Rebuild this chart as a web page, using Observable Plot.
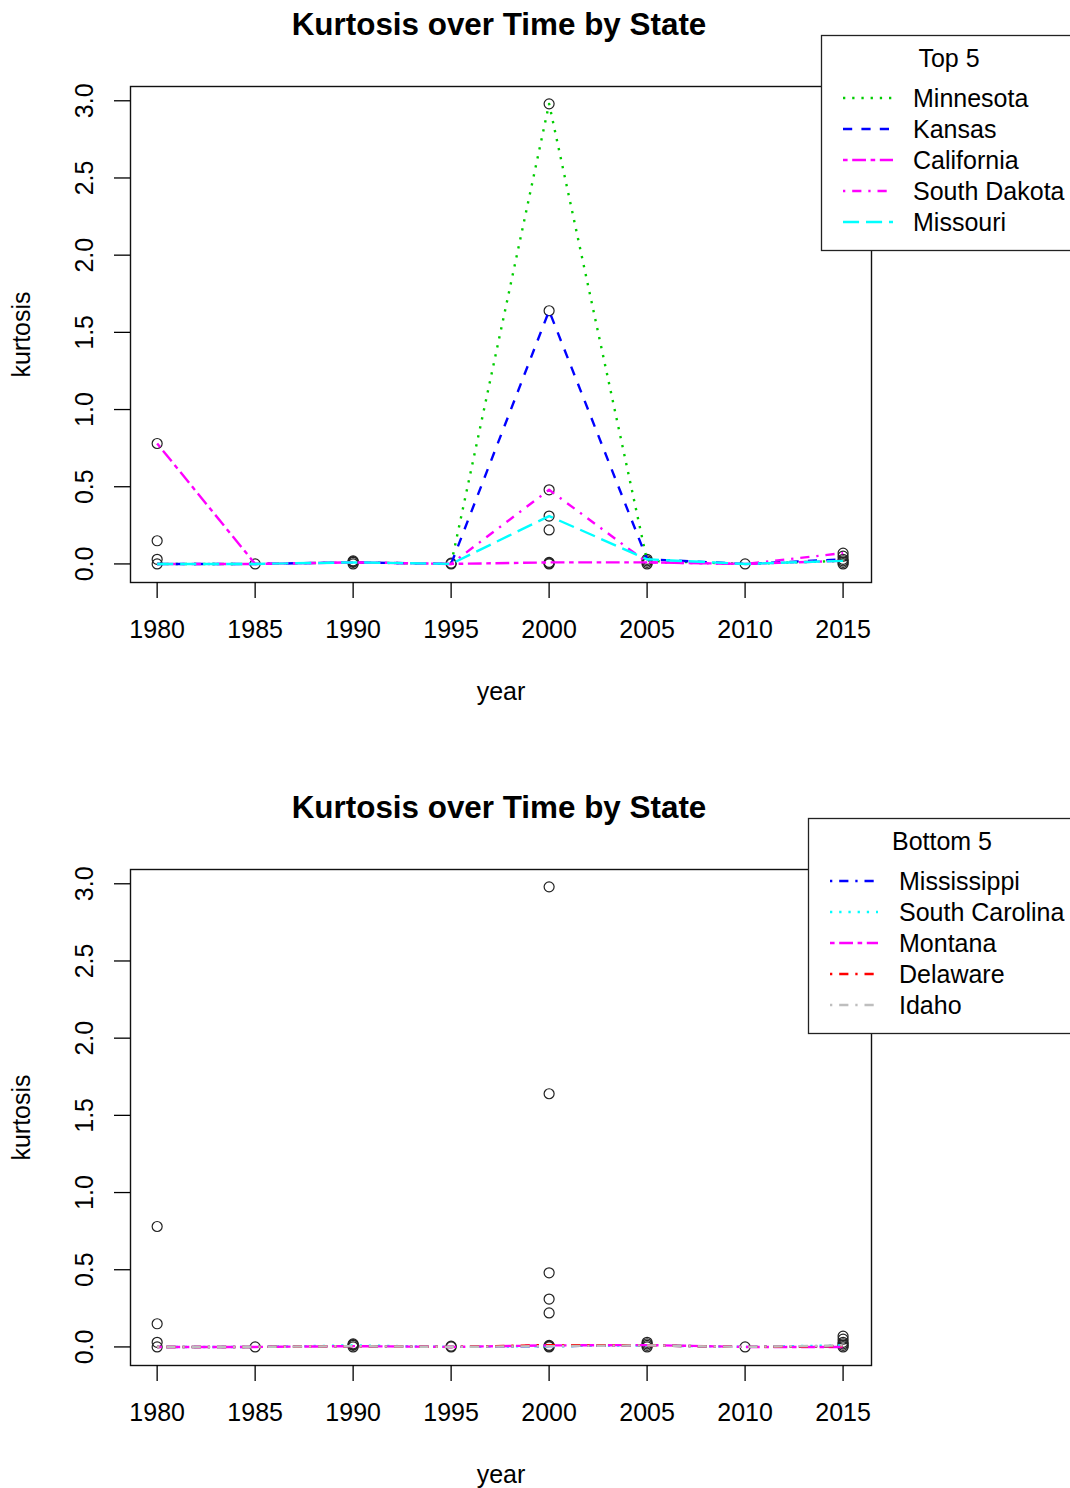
<!DOCTYPE html>
<html><head><meta charset="utf-8">
<script src="https://cdn.jsdelivr.net/npm/d3@7"></script>
<script src="https://cdn.jsdelivr.net/npm/@observablehq/plot@0.6"></script>
<style>
body{margin:0;background:#fff;}
#wrap{position:relative;width:1070px;height:1488px;overflow:hidden;background:#fff;}
.panel{position:absolute;left:0;width:1070px;height:744px;}
#overlay{position:absolute;left:0;top:0;pointer-events:none;}
</style></head><body><div id="wrap"></div>
<script>
// ---------- data ----------
const chartTitle = "Kurtosis over Time by State";
const years = [1980, 1985, 1990, 1995, 2000, 2005, 2010, 2015];
const xTicks = [1980, 1985, 1990, 1995, 2000, 2005, 2010, 2015];
const yTicks = [0, 0.5, 1, 1.5, 2, 2.5, 3];

const topTitle = "Top 5";
const topStates = ["Minnesota", "Kansas", "California", "South Dakota", "Missouri"];
const minnesota   = [0, 0, 0.01, 0, 2.98, 0.02, 0, 0.02];
const kansas      = [0, 0, 0.01, 0, 1.64, 0.03, 0, 0.03];
const california  = [0.78, 0, 0.01, 0, 0.01, 0.01, 0, 0.02];
const southDakota = [0, 0, 0.01, 0, 0.48, 0.01, 0, 0.07];
const missouri    = [0, 0, 0.01, 0, 0.31, 0.03, 0, 0.02];

const bottomTitle = "Bottom 5";
const bottomStates = ["Mississippi", "South Carolina", "Montana", "Delaware", "Idaho"];
const mississippi   = [0, 0, 0.005, 0, 0.005, 0.01, 0, 0.005];
const southCarolina = [0, 0, 0.01, 0, 0.005, 0.01, 0, 0.01];
const montana       = [0, 0, 0.005, 0, 0.01, 0.012, 0, 0];
const delaware      = [0, 0, 0.005, 0, 0.012, 0.01, 0, 0.005];
const idaho         = [0, 0, 0.005, 0, 0.005, 0.01, 0, 0.01];

// all states' observations (open circles)
const pointYears  = [1980, 1980, 1980, 1980, 1985, 1990, 1990, 1990, 1990, 1995, 1995,
                     2000, 2000, 2000, 2000, 2000, 2000, 2000, 2000,
                     2005, 2005, 2005, 2005, 2010, 2015, 2015, 2015, 2015, 2015, 2015];
const pointValues = [0.78, 0.15, 0.03, 0, 0, 0, 0.01, 0.02, 0.015, 0, 0.005,
                     2.98, 1.64, 0.48, 0.31, 0.22, 0.01, 0, 0.005,
                     0.03, 0.02, 0.01, 0, 0, 0.07, 0.05, 0.03, 0.02, 0.01, 0];

// ---------- styles ----------
const s = 2.3;
const dash = {
  dotted: [1*s, 3*s], dashed: [4*s, 4*s], dotdash: [1*s, 3*s, 4*s, 3*s],
  longdash: [7*s, 3*s], twodash: [2*s, 2*s, 6*s, 2*s]
};
const topStyle = [
  {color: "#00CD00", dash: dash.dotted},
  {color: "#0000FF", dash: dash.dashed},
  {color: "#FF00FF", dash: dash.twodash},
  {color: "#FF00FF", dash: dash.dotdash},
  {color: "#00FFFF", dash: dash.longdash}
];
const bottomStyle = [
  {color: "#0000FF", dash: dash.dotdash},
  {color: "#00FFFF", dash: dash.dotted},
  {color: "#FF00FF", dash: dash.twodash},
  {color: "#FF0000", dash: dash.dotdash},
  {color: "#BEBEBE", dash: dash.dotdash}
];
const font = "'Liberation Sans', Arial, sans-serif";

const points = pointYears.map((yr, i) => ({year: yr, value: pointValues[i]}));

function panel(series, styles) {
  const marks = [
    Plot.frame({stroke: "#111", strokeWidth: 1.4}),
    Plot.dot(points, {x: "year", y: "value", r: 5, stroke: "#222", fill: "none", strokeWidth: 1.2}),
  ];
  series.forEach((vals, i) => {
    const rows = years.map((yr, j) => ({year: yr, value: vals[j]}));
    marks.push(Plot.line(rows, {x: "year", y: "value", stroke: styles[i].color, strokeWidth: 2.4,
      strokeDasharray: styles[i].dash.join(" "), strokeLinecap: "butt", strokeLinejoin: "round"}));
  });
  marks.push(Plot.axisX({ticks: xTicks, tickFormat: d => String(d), tickSize: 16, tickPadding: 22,
    strokeWidth: 1.3, fontSize: 25, label: "year", labelAnchor: "center", labelOffset: 117, labelArrow: "none"}));
  marks.push(Plot.axisY({ticks: yTicks, tickFormat: d3.format(".1f"), tickSize: 16, tickPadding: 22,
    tickRotate: -90, strokeWidth: 1.3, fontSize: 25, label: "kurtosis", labelAnchor: "center", labelOffset: 118, labelArrow: "none"}));
  return Plot.plot({
    width: 1070, height: 744,
    marginLeft: 130, marginRight: 199, marginTop: 86, marginBottom: 162,
    x: {domain: [1978.64, 2016.45]},
    y: {domain: [-0.1203, 3.0925]},
    style: {fontFamily: font, fontSize: "25px", color: "black", background: "white", overflow: "visible"},
    marks
  });
}

const wrap = document.getElementById("wrap");
const p1 = panel([minnesota, kansas, california, southDakota, missouri], topStyle);
p1.classList.add("panel"); p1.style.top = "0px";
wrap.appendChild(p1);
const p2 = panel([mississippi, southCarolina, montana, delaware, idaho], bottomStyle);
p2.classList.add("panel"); p2.style.top = "783px";
wrap.appendChild(p2);

// overlay: titles and legends
const svg = d3.select(wrap).append("svg").attr("id", "overlay")
  .attr("width", 1070).attr("height", 1488).style("font-family", font);

function titleAndLegend(offsetY, boxX, lineX0, lineX1, textX, titleX, legTitle, names, styles) {
  svg.append("text").attr("x", 499).attr("y", offsetY + 35).attr("text-anchor", "middle")
    .attr("font-weight", "bold").attr("font-size", 31.4).text(chartTitle);
  svg.append("rect").attr("x", boxX + 0.5).attr("y", offsetY + 35.5).attr("width", 1080 - boxX)
    .attr("height", 215).attr("fill", "white").attr("stroke", "#222").attr("stroke-width", 1.3);
  svg.append("text").attr("x", titleX).attr("y", offsetY + 67).attr("text-anchor", "middle")
    .attr("font-size", 25).text(legTitle);
  names.forEach((n, i) => {
    const cy = offsetY + 98 + i * 31;
    svg.append("line").attr("x1", lineX0).attr("x2", lineX1).attr("y1", cy).attr("y2", cy)
      .attr("stroke", styles[i].color).attr("stroke-width", 2.4)
      .attr("stroke-dasharray", styles[i].dash.join(" "));
    svg.append("text").attr("x", textX).attr("y", cy + 9).attr("font-size", 25).text(n);
  });
}
titleAndLegend(0, 821, 843, 893, 913, 949, topTitle, topStates, topStyle);
titleAndLegend(783, 808, 830, 878, 899, 942, bottomTitle, bottomStates, bottomStyle);
</script></body></html>
